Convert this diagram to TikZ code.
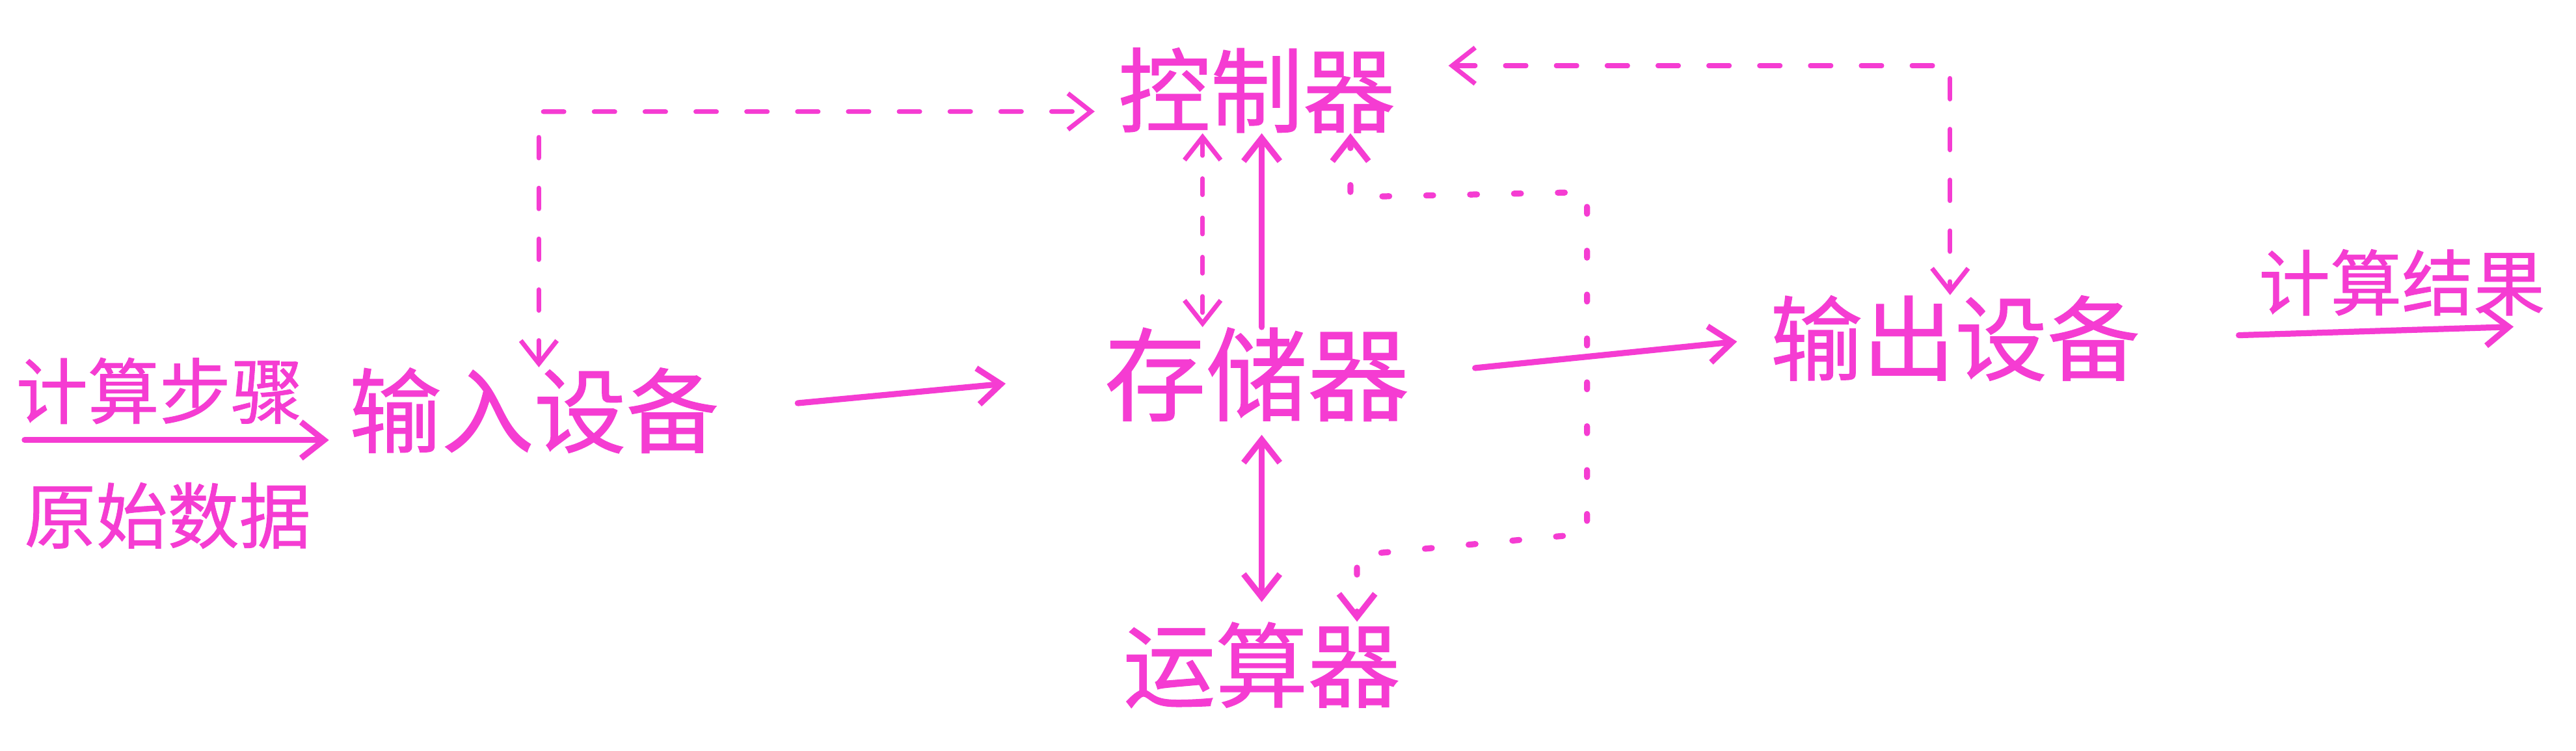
\documentclass[tikz,border=0pt]{standalone}
\usepackage{fontspec}
\newfontfamily\cjk{Noto Sans CJK SC}[UprightFeatures={FakeBold=0.8}]
\usetikzlibrary{arrows.meta,calc}
\definecolor{pen}{RGB}{245,60,210}
\begin{document}
\begin{tikzpicture}[x=0.025cm,y=-0.025cm,
  lbl/.style={text=pen,inner sep=0pt,font=\cjk\fontsize{40}{44}\selectfont},
  lblbig/.style={lbl,font=\cjk\fontsize{44}{48}\selectfont},
  lblsmall/.style={lbl,font=\cjk\fontsize{31}{34}\selectfont},
  solidarrow/.style={draw=pen,line width=2.6pt,line cap=round,-{Straight Barb[length=3.5mm,width=5.5mm]}},
  soliddouble/.style={draw=pen,line width=2.6pt,line cap=round,{Straight Barb[length=3.5mm,width=5.5mm]}-{Straight Barb[length=3.5mm,width=5.5mm]}},
  dashlink/.style={draw=pen,line width=2pt,line cap=round,dash pattern=on 9pt off 13pt,{Straight Barb[length=3.5mm,width=5.5mm]}-{Straight Barb[length=3.5mm,width=5.5mm]}},
  dotlink/.style={draw=pen,line width=2.6pt,line cap=round,dash pattern=on 3pt off 16pt,{Straight Barb[length=3.5mm,width=5.5mm]}-{Straight Barb[length=3.5mm,width=5.5mm]}}
]
\fill[white] (0,0) rectangle (1568,457);
\useasboundingbox (0,0) rectangle (1568,457);

% nodes
\node[lblsmall] (steps) at (97,238) {计算步骤};
\node[lblsmall] (data) at (102,314) {原始数据};
\node[lbl] (input) at (325,250) {输入设备};
\node[lblbig] (mem) at (765,228) {存储器};
\node[lbl] (ctrl) at (765,55) {控制器};
\node[lbl] (alu) at (768,405) {运算器};
\node[lbl] (output) at (1190,206) {输出设备};
\node[lblsmall] (result) at (1462,172) {计算结果};

% helper coordinates
\coordinate (in0) at (15,268);
\coordinate (res) at (1530,199);
\coordinate (xa) at (732,0);
\coordinate (xb) at (768,0);
\coordinate (xc) at (822,0);
\coordinate (d1) at (822,120);
\coordinate (d2) at (966,117);
\coordinate (d3) at (966,325);
\coordinate (d4) at (826,338);
\coordinate (t1) at (328,68);
\coordinate (t2) at (1187,40);

% solid flow
\draw[solidarrow,shorten >=0.3cm] (in0) -- (in0 -| input.west);
\draw[solidarrow,shorten <=1.2cm,shorten >=1.5cm] (input.east) -- (mem.west);
\draw[solidarrow,shorten <=1.0cm,shorten >=0.5cm] ($(mem.east)+(0,0.12)$) -- (output.west);
\draw[solidarrow,shorten <=1.5cm] (output.east) -- (res);

% memory <-> controller / alu
\draw[solidarrow] (mem.north -| xb) -- (ctrl.south -| xb);
\draw[soliddouble,shorten <=0.2cm,shorten >=0.3cm] (mem.south -| xb) -- (alu.north -| xb);
\draw[dashlink,dash pattern=on 7pt off 10pt] (ctrl.south -| xa) -- (mem.north -| xa);

% dotted controller <-> alu
\draw[dotlink] (ctrl.south -| xc) -- (d1) -- (d2) -- (d3) -- (d4) -- (alu.north -| d4);

% dashed controller <-> input / output
\draw[dashlink,shorten >=0.35cm] (input.north -| t1) -- (t1) -- ($(t1 -| ctrl.west)+(0,-0.1)$);
\draw[dashlink,shorten <=0.8cm] (t2 -| ctrl.east) -- (t2) -- (output.north -| t2);
\end{tikzpicture}
\end{document}
